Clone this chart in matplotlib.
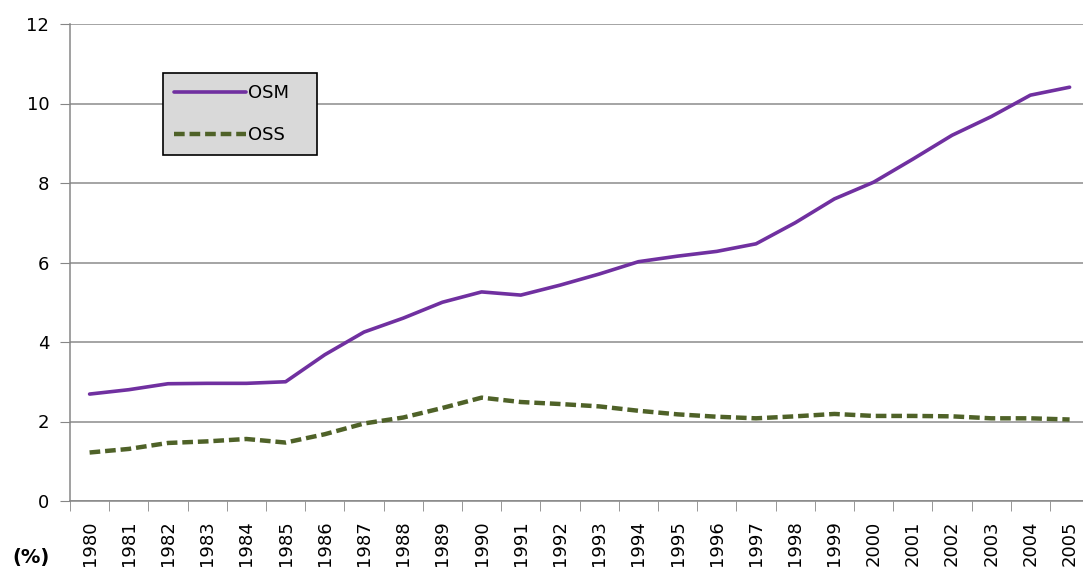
import numpy as np
import matplotlib.pyplot as plt

years = [str(y) for y in range(1980, 2006)]
osm = [2.69, 2.8, 2.95, 2.96, 2.96, 3.0, 3.68, 4.25, 4.6, 5.0, 5.26, 5.18, 5.43, 5.71,
       6.02, 6.16, 6.28, 6.47, 7.0, 7.6, 8.02, 8.6, 9.2, 9.67, 10.21, 10.41]
oss = [1.22, 1.31, 1.46, 1.5, 1.56, 1.47, 1.68, 1.95, 2.1, 2.34, 2.6, 2.49, 2.44, 2.38,
       2.27, 2.18, 2.12, 2.08, 2.13, 2.19, 2.14, 2.14, 2.13, 2.08, 2.08, 2.05]
y_ticks = [0, 2, 4, 6, 8, 10, 12]

W, H = 1083, 582
fig = plt.figure(figsize=(W / 100, H / 100), dpi=100)
# axes in pixel terms: left 70, right 1083 (plot is cut at image edge), top 24, bottom 501
ax = fig.add_axes([70 / W, (H - 501) / H, (W - 70) / W, (501 - 24) / H])

x = np.arange(len(years))
ax.plot(x, osm, color='#7030a0', linewidth=2.6, label='OSM', solid_capstyle='round')
ax.plot(x, oss, color='#4f6228', linewidth=3.2, linestyle=(0, (2.4, 1.1)), label='OSS')

ax.set_ylim(0, 12)
ax.set_xlim(-0.5, -0.5 + (W - 70) / 39.2)
ax.set_yticks(y_ticks)
ax.set_yticklabels([str(t) for t in y_ticks], fontsize=13)
ax.set_xticks(x)
ax.set_xticklabels(years, rotation=90, fontsize=13)
ax.tick_params(axis='x', length=0, pad=14)
ax.set_xticks(np.arange(len(years)) - 0.5, minor=True)
ax.tick_params(axis='x', which='minor', length=7, color='#868686', direction='out')
ax.tick_params(axis='y', length=7, color='#868686', pad=8)

ax.grid(True, axis='y', color='#8c8c8c', linewidth=1.1, zorder=0)
for s in ['top', 'right']:
    ax.spines[s].set_visible(False)
for s in ['left', 'bottom']:
    ax.spines[s].set_color('#868686')
    ax.spines[s].set_linewidth(1.1)

leg = ax.legend(loc='upper left', bbox_to_anchor=(163 / W, 1 - 73 / H),
                bbox_transform=fig.transFigure, fancybox=False, framealpha=1,
                facecolor='#d9d9d9', edgecolor='black', fontsize=13,
                handlelength=4.0, handletextpad=0.1, labelspacing=1.35,
                borderpad=0.6, borderaxespad=0)
leg.get_frame().set_linewidth(1.2)
# pad out the right side of the legend box a bit
for t in leg.get_texts():
    t.set_text(t.get_text() + '   ')

fig.text(12 / W, 1 - 557 / H, '(%)', fontsize=14, fontweight='bold', va='center', ha='left')

fig.savefig('out.png', dpi=100)
